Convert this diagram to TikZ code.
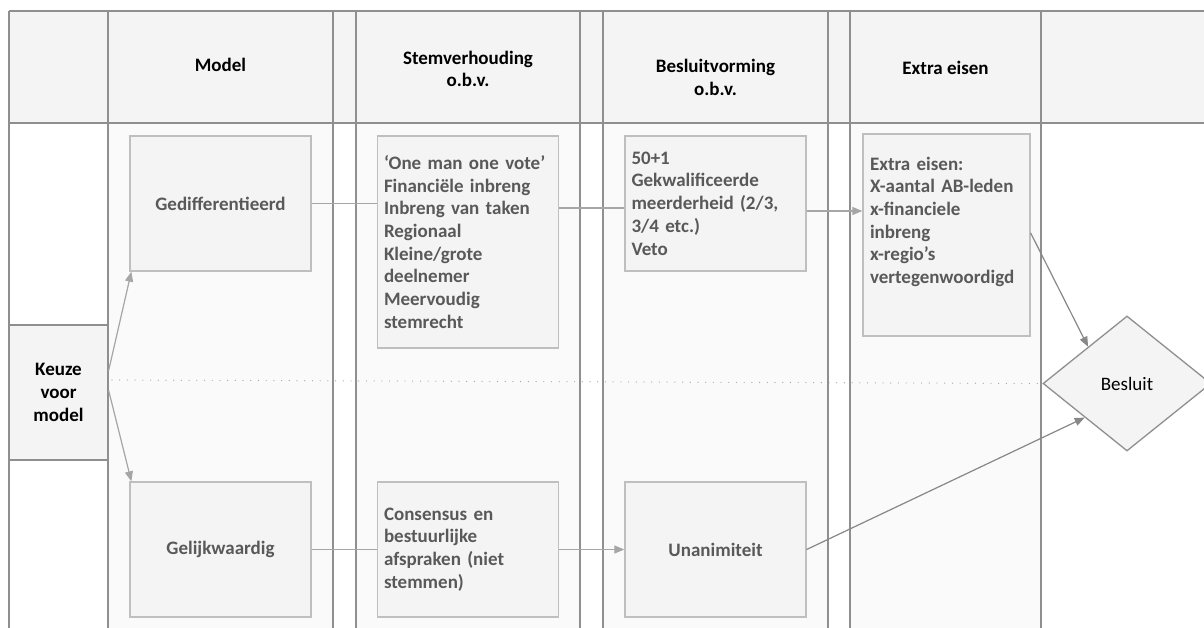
\documentclass[tikz,border=0pt]{standalone}
\usepackage{fontspec}
\setmainfont{Carlito}
\usetikzlibrary{shapes.geometric,arrows.meta,calc}
\definecolor{hdrfill}{HTML}{F4F4F4}
\definecolor{colfill}{HTML}{FAFAFA}
\definecolor{gridline}{HTML}{8F8F8F}
\definecolor{boxline}{HTML}{BFBFBF}
\definecolor{boxfill}{HTML}{F4F4F4}
\definecolor{boxtext}{HTML}{595959}
\definecolor{conn}{HTML}{A6A6A6}
\definecolor{conndark}{HTML}{888888}
\definecolor{dotline}{HTML}{A0A0A0}
\begin{document}
\begin{tikzpicture}[x=1pt,y=-1pt,
  txt/.style={font=\fontsize{19}{22.7}\selectfont\bfseries},
  hdr/.style={txt, text=black, align=center, inner sep=0pt},
  box/.style={draw=boxline, line width=1.3pt, fill=boxfill, txt, text=boxtext, inner sep=0pt, minimum width=181pt, minimum height=135pt, align=center},
  lbox/.style={box, align=left, text width=168pt},
  grid/.style={draw=gridline, line width=1.3pt},
  conline/.style={draw=conn, line width=1.2pt},
  arr/.style={-{Triangle[length=10pt,width=8pt]}},
  darkarr/.style={draw=conndark, line width=1.2pt, fill=conndark, -{Triangle[length=10pt,width=8pt]}},
]
\useasboundingbox (0,0) rectangle (1204,628);
% fills
\fill[hdrfill] (9,11) rectangle (1220,123);
\fill[colfill] (108,123) rectangle (333,640);
\fill[colfill] (356,123) rectangle (580,640);
\fill[colfill] (603,123) rectangle (828,640);
\fill[colfill] (850,123) rectangle (1041,640);
% grid lines
\draw[grid] (9,11) -- (1220,11);
\draw[grid] (9,123) -- (1220,123);
\foreach \xx in {9,108,333,356,580,603,828,850,1041}
  \draw[grid] (\xx,11) -- (\xx,640);
% headers
\node[hdr] (hmodel) at (220.5,65) {Model};
\node[hdr] (hstem) at (468,69) {Stemverhouding\\o.b.v.};
\node[hdr] (hbes) at (715.5,77.5) {Besluitvorming\\o.b.v.};
\node[hdr] (hextra) at (945.5,68) {Extra eisen};
% dotted line
\coordinate (dstart) at (112,380);
% nodes
\node[draw=gridline, line width=1.3pt, fill=boxfill, txt, text=black, align=center, minimum width=99pt, minimum height=135pt, inner sep=0pt] (keuze) at (58.5,392.5) {Keuze\\voor\\model};
\node[box] (gedif) at (220.5,203.5) {Gedifferentieerd};
\node[box] (gelijk) at (220.5,549.5) {Gelijkwaardig};
\node[lbox, minimum height=212pt] (stem1) at (468,242) {‘One man one vote’\\Financiële inbreng\\Inbreng van taken\\Regionaal\\Kleine/grote\\deelnemer\\Meervoudig\\stemrecht};
\node[lbox] (cons) at (468,549.5) {Consensus en\\bestuurlijke\\afspraken (niet\\stemmen)};
\node[lbox] (bes1) at (715.5,203.5) {50+1\\Gekwalificeerde\\meerderheid (2/3,\\3/4 etc.)\\Veto};
\node[box] (unan) at (715.5,549.5) {Unanimiteit};
\node[box, align=left, text width=153pt, minimum width=167pt, minimum height=202pt] (extra) at (946.5,235) {Extra eisen:\\X-aantal AB-leden\\x-financiele\\inbreng\\x-regio’s\\vertegenwoordigd\\\strut};
\node[diamond, draw=gridline, line width=1.3pt, fill=boxfill, minimum width=168pt, minimum height=135pt, inner sep=0pt, font=\fontsize{19}{22}\selectfont] (besluit) at (1127,383.5) {Besluit};
\draw[draw=dotline, line width=1.2pt, line cap=round, dash pattern=on 0.01pt off 7.7pt] (dstart) -- (besluit.west);
% connectors
\draw[conline, fill=conn, arr] ([yshift=22pt]keuze.east) -- ([xshift=2pt]gedif.south west);
\draw[conline, fill=conn, arr] ([yshift=2pt]keuze.east) -- ([xshift=2pt]gelijk.north west);
\draw[conline] (gedif.east) -- (stem1.west |- gedif.east);
\coordinate (c1) at ([yshift=-4.5pt]bes1.west);
\draw[conline] (stem1.east |- c1) -- (c1);
\coordinate (c2) at ([yshift=-7.5pt]bes1.east);
\draw[conline, fill=conn, arr] (c2) -- (extra.west |- c2);
\draw[conline] (gelijk.east) -- (cons.west);
\draw[conline, fill=conn, arr] (cons.east) -- (unan.west);
\draw[darkarr] ([yshift=2pt]extra.east) -- ($(besluit.west)!0.54!(besluit.north)$);
\draw[darkarr] (unan.east) -- ($(besluit.west)!0.5!(besluit.south)$);
\end{tikzpicture}
\end{document}
